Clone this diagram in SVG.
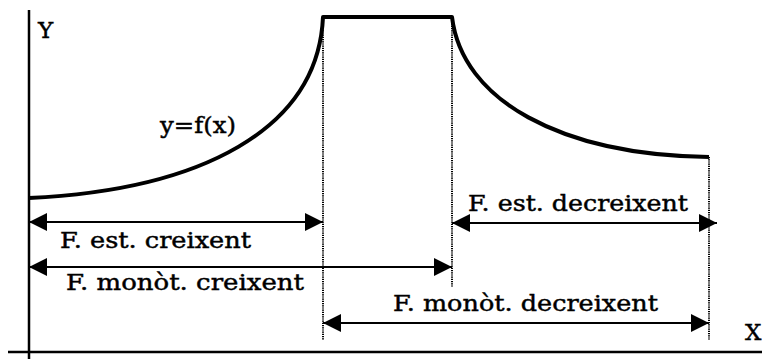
<svg xmlns="http://www.w3.org/2000/svg" width="762" height="359" viewBox="0 0 762 359">
<defs>
<style>
.lbl{font-family:"DejaVu Serif","Liberation Serif",serif;font-size:23px;fill:#000;stroke:#000;stroke-width:0.45}
.axis{stroke:#000;stroke-width:2.5;fill:none}
.curve{stroke:#000;stroke-width:4;fill:none;stroke-linejoin:round}
.guide{stroke:#000;stroke-width:2;stroke-dasharray:1.2 1;fill:none}
.dim{stroke:#000;stroke-width:2.2;fill:none;marker-start:url(#ah);marker-end:url(#ah)}
</style>
<marker id="ah" viewBox="0 0 18 18" refX="18" refY="9" markerWidth="18" markerHeight="18" markerUnits="userSpaceOnUse" orient="auto-start-reverse">
<path d="M0,0 L18,9 L0,18 Z" fill="#000"/>
</marker>
</defs>
<rect width="762" height="359" fill="#fff"/>
<g id="axes">
<line class="axis" x1="29" y1="10" x2="29" y2="359"/>
<line class="axis" x1="8" y1="352" x2="762" y2="352"/>
<text class="lbl" x="38" y="38">Y</text>
<text class="lbl" x="745" y="340">X</text>
</g>
<g id="function">
<path class="curve" d="M29,198 C200,190 318,130 323,17 L452,17 C462,100 560,155 709,157"/>
<text class="lbl" x="160" y="133" textLength="76" lengthAdjust="spacingAndGlyphs">y=f(x)</text>
</g>
<g id="guides">
<line class="guide" x1="323" y1="17" x2="323" y2="340"/>
<line class="guide" x1="452" y1="17" x2="452" y2="287"/>
<line class="guide" x1="709" y1="157" x2="709" y2="340"/>
</g>
<g id="connectors">
<line class="dim" x1="29" y1="222" x2="323" y2="222"/>
<line class="dim" x1="29" y1="267" x2="452" y2="267"/>
<line class="dim" x1="452" y1="223" x2="717" y2="223"/>
<line class="dim" x1="323" y1="323" x2="709" y2="323"/>
</g>
<g id="label-est-creixent"><text class="lbl" x="60" y="248" textLength="191" lengthAdjust="spacingAndGlyphs">F. est. creixent</text></g>
<g id="label-monot-creixent"><text class="lbl" x="66" y="290" textLength="238" lengthAdjust="spacingAndGlyphs">F. monòt. creixent</text></g>
<g id="label-est-decreixent"><text class="lbl" x="468" y="211" textLength="220" lengthAdjust="spacingAndGlyphs">F. est. decreixent</text></g>
<g id="label-monot-decreixent"><text class="lbl" x="393" y="311" textLength="265" lengthAdjust="spacingAndGlyphs">F. monòt. decreixent</text></g>
</svg>
